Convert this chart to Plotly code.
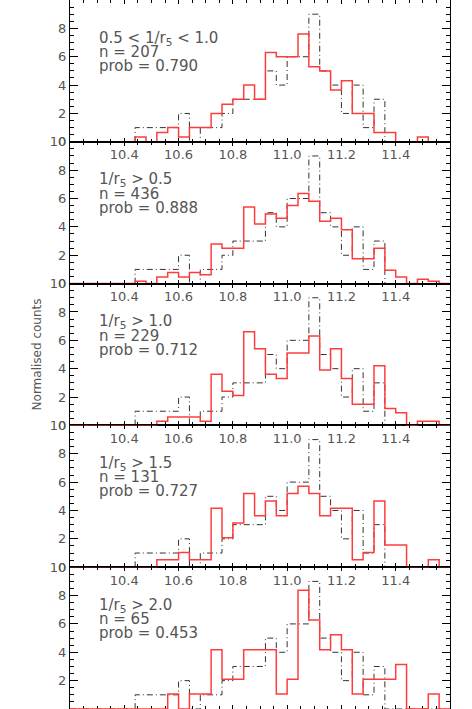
import plotly.graph_objects as go
from plotly.subplots import make_subplots

# histogram bin edges (bin width 0.04)
bin_edges = [round(10.44 + 0.04 * i, 2) for i in range(29)]
x_min, x_max = 10.2, 11.6

# reference distribution (dash-dot), the same in every panel
ref_counts = [1, 1, 1, 1, 2, 0, 1, 1, 2, 3, 3, 3, 5, 4, 6, 6, 9, 5, 4, 2, 4, 1, 3, 0, 0, 0, 0, 0]

# normalised counts of each subsample (red)
counts_05_10 = [0.33, 0, 0.66, 1.0, 0.33, 1.0, 1.0, 2.0, 2.65, 3.0, 4.0, 3.0, 6.3, 6.0,
                6.0, 7.6, 5.3, 5.0, 3.65, 4.3, 2.0, 2.0, 0.66, 0.66, 0, 0, 0.33, 0]
counts_gt05 = [0.16, 0, 0.47, 0.78, 0.47, 0.78, 0.62, 2.8, 2.5, 2.5, 5.4, 4.2, 4.9, 4.6,
               5.5, 6.35, 5.8, 4.4, 4.6, 3.8, 1.76, 1.76, 2.5, 0.94, 0.47, 0, 0.31, 0.16]
counts_gt10 = [0, 0, 0.3, 0.6, 0.6, 0.6, 0.3, 3.6, 2.4, 2.1, 6.6, 5.4, 3.6, 3.3,
               5.1, 5.1, 6.3, 3.9, 5.4, 3.3, 1.5, 1.5, 4.2, 1.2, 0.9, 0, 0.3, 0.3]
counts_gt15 = [0, 0, 0.52, 0.52, 1.04, 0.52, 0.52, 4.15, 2.08, 3.11, 5.19, 3.63, 4.67, 3.63,
               5.19, 5.71, 5.19, 3.63, 4.15, 4.15, 0.52, 1.04, 4.67, 1.56, 1.56, 0, 0, 0.52]
counts_gt20 = [0, 0, 0, 1.05, 0, 1.05, 1.05, 4.18, 2.09, 2.09, 4.18, 4.18, 4.18, 1.05,
               2.09, 8.37, 6.28, 4.18, 5.23, 4.18, 1.05, 2.09, 2.09, 2.09, 3.14, 0, 0, 1.05]

panel_counts = [counts_05_10, counts_gt05, counts_gt10, counts_gt15, counts_gt20]
panel_labels = ["0.5 < 1/r<sub>5</sub> < 1.0", "1/r<sub>5</sub> > 0.5", "1/r<sub>5</sub> > 1.0",
                "1/r<sub>5</sub> > 1.5", "1/r<sub>5</sub> > 2.0"]
n_values = [207, 436, 229, 131, 65]
prob_values = ["0.790", "0.888", "0.712", "0.727", "0.453"]

x_ticks = [10.4, 10.6, 10.8, 11.0, 11.2, 11.4]
y_ticks = [0, 2, 4, 6, 8, 10]


def step_xy(vals):
    xs = [x_min] + bin_edges + [x_max]
    ys = [0] + list(vals) + [0, 0]
    return xs, ys


fig = make_subplots(rows=5, cols=1, vertical_spacing=0)

txt_font = dict(family="DejaVu Sans", size=15, color="#555")
tick_font = dict(family="DejaVu Sans", size=13, color="#555")

for i, vals in enumerate(panel_counts):
    r = i + 1
    xs, ys = step_xy(ref_counts)
    fig.add_trace(go.Scatter(x=xs, y=ys, mode="lines", line_shape="hv",
                             line=dict(color="#333", width=1, dash="6px,3px,1px,3px"),
                             showlegend=False, hoverinfo="skip"), row=r, col=1)
    xs, ys = step_xy(vals)
    fig.add_trace(go.Scatter(x=xs, y=ys, mode="lines", line_shape="hv",
                             line=dict(color="#ff3c3c", width=1.5),
                             showlegend=False, hoverinfo="skip"), row=r, col=1)

    ax = "" if r == 1 else str(r)
    lines = [panel_labels[i], "n = %d" % n_values[i], "prob = " + prob_values[i]]
    for j, t in enumerate(lines):
        fig.add_annotation(text=t, xref="x%s domain" % ax, yref="y%s domain" % ax,
                           x=0.07, y=0.732 - j * 0.099, xanchor="left", yanchor="middle",
                           showarrow=False, font=txt_font)

    fig.update_xaxes(range=[x_min, x_max], tickvals=x_ticks,
                     ticktext=["%.1f" % v for v in x_ticks],
                     ticks="inside", ticklen=4, tickcolor="black",
                     showline=True, linecolor="black", linewidth=1, mirror="ticks",
                     showgrid=False, zeroline=False, layer="below traces",
                     automargin=False, ticklabelstandoff=1,
                     minor=dict(dtick=0.05, tick0=10.2, ticks="inside", ticklen=3,
                                tickcolor="black", showgrid=False),
                     tickfont=tick_font, row=r, col=1)
    fig.update_yaxes(range=[0, 10], tickvals=y_ticks,
                     ticks="inside", ticklen=8, tickcolor="black",
                     showline=True, linecolor="black", linewidth=1, mirror="ticks",
                     showgrid=False, zeroline=False, layer="below traces",
                     automargin=False,
                     minor=dict(dtick=0.5, tick0=0, ticks="inside", ticklen=4,
                                tickcolor="black", showgrid=False),
                     tickfont=tick_font, row=r, col=1)

fig.add_annotation(text="Normalised counts", xref="paper", yref="paper",
                   x=-0.087, y=0.5, xanchor="center", yanchor="middle", textangle=-90,
                   showarrow=False, font=dict(family="DejaVu Sans", size=12, color="#555"))

fig.update_layout(width=472, height=709, margin=dict(l=70, r=22, t=0, b=0, autoexpand=False),
                  paper_bgcolor="white", plot_bgcolor="white")

# drop the default page margin so the figure sits at the window's corner
fig.write_html("out.html", config={"displayModeBar": False},
               post_script="document.body.style.margin='0px';")
